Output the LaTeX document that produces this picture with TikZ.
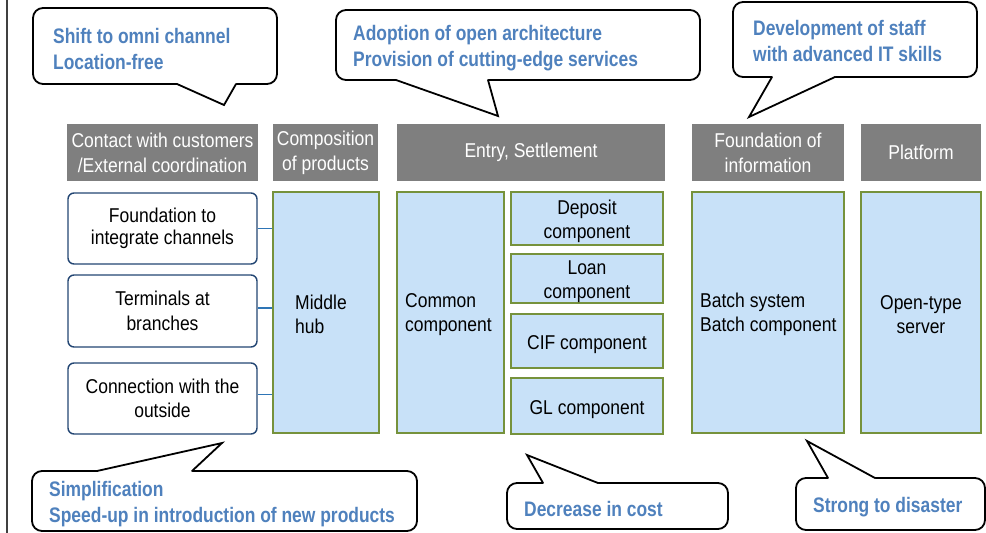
\documentclass[tikz,border=0pt]{standalone}
\usepackage{fontspec}
\setmainfont{Liberation Sans}[FakeStretch=0.875]
\newfontfamily\cfont{Liberation Sans}[FakeStretch=0.83]
\definecolor{hdrgray}{RGB}{127,127,127}
\definecolor{lblue}{RGB}{200,225,248}
\definecolor{olivegreen}{RGB}{118,146,60}
\definecolor{navy}{RGB}{35,70,115}
\definecolor{linkblue}{RGB}{46,117,182}
\definecolor{cblue}{RGB}{79,129,189}
\definecolor{rulegray}{RGB}{64,64,64}
\tikzset{
  bodyfont/.style={font=\fontsize{20}{24.5}\selectfont},
  hdr/.style={fill=hdrgray, text=white, inner sep=0pt, align=center, font=\fontsize{20}{25}\selectfont},
  chan/.style={draw=navy, line width=1.4pt, rounded corners=6pt, fill=white, inner sep=0pt, align=center, bodyfont, minimum width=189pt},
  comp/.style={draw=olivegreen, fill=lblue, line width=2pt, inner sep=0pt, align=center, bodyfont},
  bodytext/.style={inner sep=0pt, align=left, bodyfont},
  cbox/.style={draw=black, line width=1.8pt, rounded corners=10pt, fill=white, inner sep=0pt},
  ctext/.style={inner sep=0pt, anchor=west, align=left, text=cblue, font=\cfont\bfseries\fontsize{21}{26}\selectfont},
  link/.style={draw=linkblue, line width=1.5pt},
  tipline/.style={draw=black, line width=1.8pt, line join=miter, line cap=round}
}
\begin{document}
\begin{tikzpicture}[x=1pt, y=-1pt]
\useasboundingbox (0,0) rectangle (986,533);
% left rule
\draw[rulegray, line width=1.3pt] (7,0) -- (7,533);

% headers
\node[hdr, minimum width=191pt, minimum height=57pt] (h1) at (162.5,152.5) {Contact with customers\\/External coordination};
\node[hdr, minimum width=105pt, minimum height=57pt] (h2) at (325.5,152.5) {Composition\\of products};
\node[hdr, minimum width=268pt, minimum height=57pt] (h3) at (531,152.5) {Entry, Settlement};
\node[hdr, minimum width=152pt, minimum height=57pt] (h4) at (768,152.5) {Foundation of\\information};
\node[hdr, minimum width=120pt, minimum height=57pt] (h5) at (921,152.5) {Platform};

% channel boxes
\node[chan, minimum height=71pt, font=\fontsize{20}{22.5}\selectfont] (f1) at (162.5,228.5) {Foundation to\\integrate channels};
\node[chan, minimum height=72pt] (f2) at (162.5,311) {Terminals at\\branches};
\node[chan, minimum height=71pt] (f3) at (162.5,398.5) {Connection with the\\outside};

% components
\node[comp, minimum width=106pt, minimum height=241pt] (hub) at (326,312.5) {};
\node[bodytext, anchor=west] (hubt) at ([xshift=23pt,yshift=-2pt]hub.west) {Middle\\hub};
\node[comp, minimum width=107pt, minimum height=241pt] (common) at (450.5,312.5) {};
\node[bodytext, anchor=west] (commont) at ([xshift=9pt,yshift=-2pt]common.west) {Common\\component};
\node[comp, minimum width=152pt, minimum height=53pt] (dep) at (587,218.5) {};
\node[bodytext, align=center] (dept) at ([yshift=-3pt]dep.center) {Deposit\\component};
\node[comp, minimum width=152pt, minimum height=49pt] (loan) at (587,278.5) {};
\node[bodytext, align=center] (loant) at ([yshift=-3pt]loan.center) {Loan\\component};
\node[comp, minimum width=152pt, minimum height=54pt] (cif) at (587,341) {};
\node[bodytext, align=center] (cift) at ([yshift=-4pt]cif.center) {CIF component};
\node[comp, minimum width=152pt, minimum height=56pt] (gl) at (587,406) {};
\node[bodytext, align=center] (glt) at ([yshift=-4pt]gl.center) {GL component};
\node[comp, minimum width=152pt, minimum height=241pt] (batch) at (768,312.5) {};
\node[bodytext, anchor=west] (batcht) at ([xshift=9pt,yshift=-2pt]batch.west) {Batch system\\Batch component};
\node[comp, minimum width=120pt, minimum height=241pt] (open) at (921,312.5) {};
\node[bodytext, align=center] (opent) at ([yshift=-2pt]open.center) {Open-type\\server};

% links
\draw[link] (f1.east) -- (f1.east -| hub.west);
\draw[link] ([yshift=3pt]f2.east) -- ([yshift=3pt]f2.east -| hub.west);
\draw[link] ([yshift=4pt]f3.east) -- ([yshift=4pt]f3.east -| hub.west);

% callout 1
\node[cbox, minimum width=244pt, minimum height=76pt] (c1box) at (155,46) {};
\fill[white] (177,80) -- (177,84) -- (224,105) -- (236,84) -- (236,80) -- cycle;
\draw[tipline] (177,84) -- (224,105) -- (236,84);
\node[ctext] (c1) at (53,49) {Shift to omni channel\\Location-free};

% callout 2
\node[cbox, minimum width=364pt, minimum height=70pt] (c2box) at (518,45) {};
\fill[white] (396,76) -- (396,80) -- (498,116) -- (488,80) -- (488,76) -- cycle;
\draw[tipline] (396,80) -- (498,116) -- (488,80);
\node[ctext] (c2) at (353,48.5) {Adoption of open architecture\\Provision of cutting-edge services};

% callout 3
\node[cbox, minimum width=244pt, minimum height=75pt] (c3box) at (855,39.5) {};
\fill[white] (772,73) -- (772,77) -- (749,117) -- (835,77) -- (835,73) -- cycle;
\draw[tipline] (772,77) -- (749,117) -- (835,77);
\node[ctext] (c3) at (753,41) {Development of staff\\with advanced IT skills};

% callout 4
\node[cbox, minimum width=385pt, minimum height=60pt] (c4box) at (224.5,501) {};
\fill[white] (97,475) -- (97,471) -- (222,443) -- (192,471) -- (192,475) -- cycle;
\draw[tipline] (97,471) -- (222,443) -- (192,471);
\node[ctext] (c4) at (49,504) {Simplification\\Speed-up in introduction of new products};

% callout 5
\node[cbox, minimum width=221pt, minimum height=46pt] (c5box) at (617.5,506) {};
\fill[white] (543,487) -- (543,483) -- (527,455) -- (598,483) -- (598,487) -- cycle;
\draw[tipline] (543,483) -- (527,455) -- (598,483);
\node[ctext] (c5) at (524,509) {Decrease in cost};

% callout 6
\node[cbox, minimum width=189pt, minimum height=52pt] (c6box) at (890.5,504) {};
\fill[white] (828,482) -- (828,478) -- (807,441) -- (875,478) -- (875,482) -- cycle;
\draw[tipline] (828,478) -- (807,441) -- (875,478);
\node[ctext] (c6) at (813,507) {Strong to disaster};
\end{tikzpicture}
\end{document}
